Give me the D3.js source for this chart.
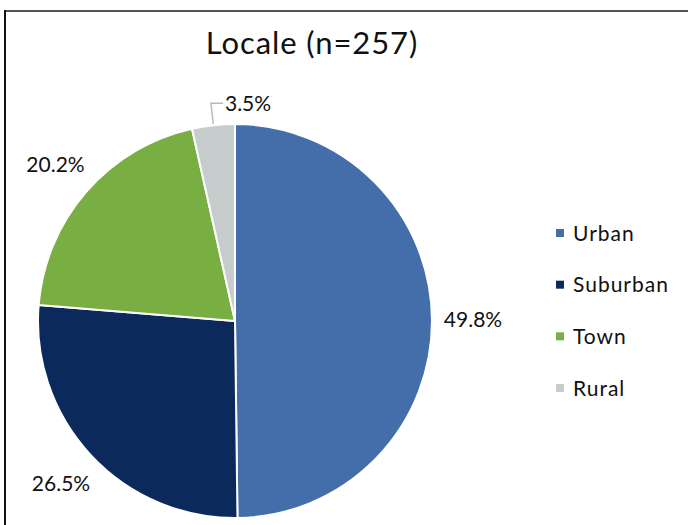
<!DOCTYPE html>
<html>
<head>
<meta charset="utf-8">
<script src="https://cdn.jsdelivr.net/npm/d3@7"></script>
<style>
  body { margin: 0; background: #fff; }
  text { font-family: Lato, "Open Sans", sans-serif; fill: #111; }
</style>
</head>
<body>
<svg id="chart" width="688" height="525"></svg>
<script>
var categories = ["Urban", "Suburban", "Town", "Rural"];
var values = [49.8, 26.5, 20.2, 3.5];
var colors = ["#446ea9", "#0b2a5b", "#79af42", "#c6cbcb"];
var title = "Locale (n=257)";

var width = 688, height = 525;
var cx = 235, cy = 321, radius = 197;
var labelRadius = 238;

var svg = d3.select("#chart");

// frame lines (top + left)
svg.append("line")
    .attr("x1", 4).attr("x2", width).attr("y1", 11).attr("y2", 11)
    .attr("stroke", "#555").attr("stroke-width", 2);
svg.append("line")
    .attr("x1", 5).attr("x2", 5).attr("y1", 10).attr("y2", height)
    .attr("stroke", "#111").attr("stroke-width", 2);

svg.append("text")
    .attr("x", 312)
    .attr("y", 54)
    .attr("text-anchor", "middle")
    .style("font-size", "31px")
    .style("letter-spacing", "0.9px")
    .text(title);

var data = categories.map(function(c, i) { return {name: c, value: values[i], color: colors[i]}; });

var pie = d3.pie()
    .sort(null)
    .value(function(d) { return d.value; });

var arc = d3.arc().innerRadius(0).outerRadius(radius);
var arcs = pie(data);

var g = svg.append("g")
    .attr("transform", "translate(" + cx + "," + cy + ")");

g.selectAll("path.slice")
    .data(arcs)
  .enter().append("path")
    .attr("class", "slice")
    .attr("d", arc)
    .attr("fill", function(d) { return d.data.color; })
    .attr("stroke", "#fff")
    .attr("stroke-width", 2)
    .attr("stroke-linejoin", "round");

function pointAt(angle, r) {
    return [r * Math.sin(angle), -r * Math.cos(angle)];
}

// percent labels
arcs.forEach(function(d) {
    var mid = (d.startAngle + d.endAngle) / 2;
    var label = d3.format(".1f")(d.data.value) + "%";
    if (d.data.value < 5) {
        // small slice: label pulled out with a leader line
        var p0 = pointAt(mid, radius + 1);
        var p1 = pointAt(mid, radius + 22);
        var p2 = [p1[0] + 12, p1[1]];
        g.append("polyline")
            .attr("points", [p0, p1, p2].map(function(p) { return p.join(","); }).join(" "))
            .attr("fill", "none")
            .attr("stroke", "#bbb")
            .attr("stroke-width", 1.5);
        g.append("text")
            .attr("x", p2[0] + 2)
            .attr("y", p2[1])
            .attr("dy", "0.35em")
            .style("font-size", "21px")
            .text(label);
    } else {
        var p = pointAt(mid, labelRadius);
        g.append("text")
            .attr("x", p[0])
            .attr("y", p[1])
            .attr("dy", "0.35em")
            .attr("text-anchor", "middle")
            .style("font-size", "21px")
            .text(label);
    }
});

// legend
var legendY = d3.scalePoint()
    .domain(categories)
    .range([233, 388]);

var legend = svg.append("g").selectAll("g")
    .data(data)
  .enter().append("g")
    .attr("transform", function(d) { return "translate(556," + legendY(d.name) + ")"; });

legend.append("rect")
    .attr("x", 0).attr("y", -4)
    .attr("width", 8).attr("height", 8)
    .attr("fill", function(d) { return d.color; });

legend.append("text")
    .attr("x", 17)
    .attr("dy", "0.36em")
    .style("font-size", "21px")
    .style("letter-spacing", "1px")
    .text(function(d) { return d.name; });
</script>
</body>
</html>
